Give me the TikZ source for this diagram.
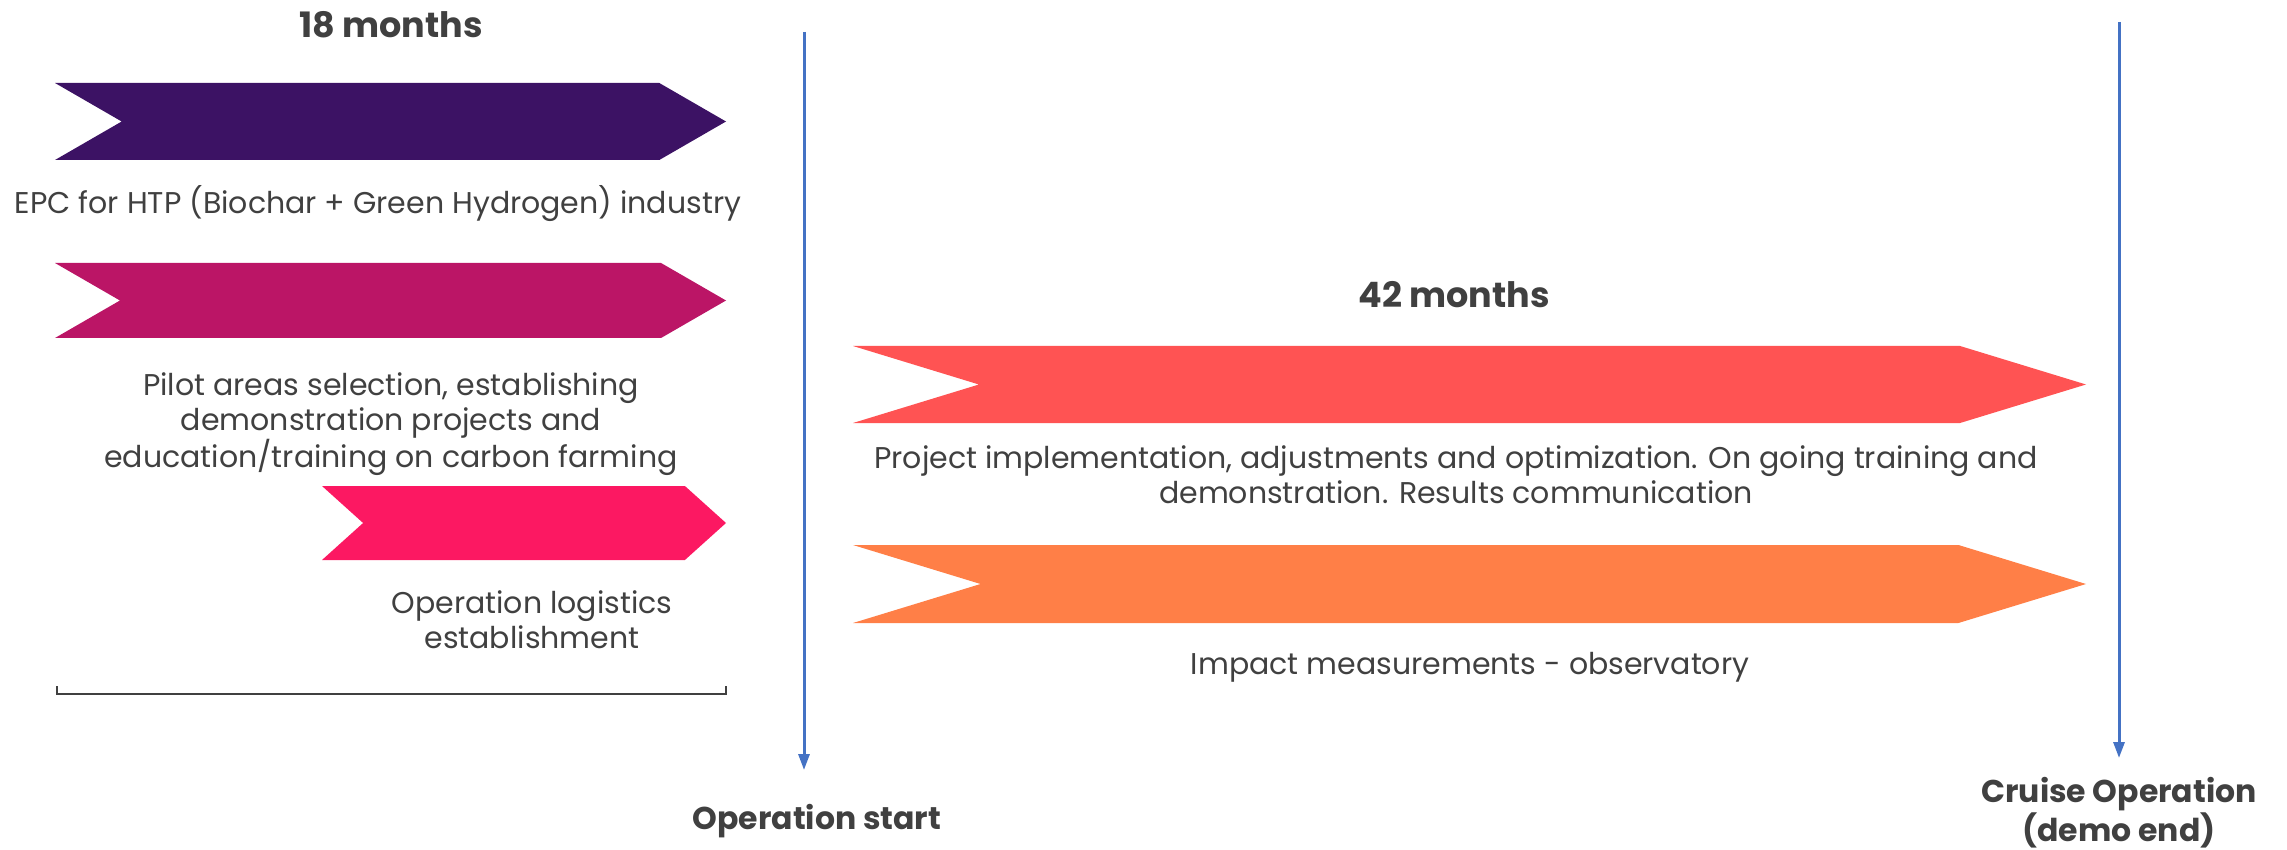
\documentclass[tikz,border=0pt]{standalone}
\usepackage{fontspec}
\setmainfont{Poppins}
\definecolor{epcpurple}{RGB}{60,18,100}
\definecolor{pilotmagenta}{RGB}{187,21,102}
\definecolor{logisticspink}{RGB}{252,24,98}
\definecolor{projectred}{RGB}{255,83,83}
\definecolor{impactorange}{RGB}{255,127,71}
\definecolor{timelineblue}{RGB}{68,114,196}
\definecolor{textgray}{RGB}{64,64,64}
\usetikzlibrary{shapes.symbols,arrows.meta,positioning}

\begin{document}
\begin{tikzpicture}[x=1pt, y=-1pt,
    chevron/.style={signal, signal from=west, signal to=east, inner sep=0pt, draw=none},
    phase/.style={font=\fontsize{30}{35}\selectfont, text=textgray, align=center},
    period/.style={font=\fontsize{35}{40}\selectfont\bfseries, text=textgray, align=center},
    milestonelabel/.style={font=\fontsize{31.5}{39}\selectfont\bfseries, text=textgray, align=center},
    milestone/.style={-{Triangle[length=16pt,width=11pt]}, line width=3pt, draw=timelineblue}]
    \useasboundingbox (0,0) rectangle (2287,850);

    % Preparation phase (18 months)
    \node[period] (months18) at (391,25) {18 months};
    \node[chevron, fill=epcpurple, minimum width=671pt, minimum height=77pt, signal pointer angle=60] (epc) at (390.5,121.5) {};
    \node[phase] (epclabel) at (378,204) {EPC for HTP (Biochar + Green Hydrogen) industry};
    \node[chevron, fill=pilotmagenta, minimum width=671pt, minimum height=75pt, signal pointer angle=60] (pilot) at (390.5,300.5) {};
    \node[phase] (pilotlabel) at (391,424) {Pilot areas selection, establishing\\demonstration projects and\\education/training on carbon farming};
    \node[chevron, fill=logisticspink, minimum width=404pt, minimum height=74pt, signal pointer angle=84] (logistics) at (524,523) {};
    \node[phase] (logisticslabel) at (532,620) {Operation logistics\\establishment};

    % Bracket under the first phase
    \coordinate (brleft) at (57,686);
    \coordinate (brright) at (726,686);
    \draw[textgray, line width=1.5pt] (brleft) -- ++(0,8) -| (brright);

    % Operation phase (42 months)
    \node[period] (months42) at (1454,295) {42 months};
    \node[chevron, fill=projectred, minimum width=1233pt, minimum height=77pt, signal pointer angle=34] (project) at (1469.5,384.5) {};
    \node[phase] (projectlabel) at (1456,475) {Project implementation, adjustments and optimization. On going training and\\demonstration. Results communication};
    \node[chevron, fill=impactorange, minimum width=1233pt, minimum height=78pt, signal pointer angle=34] (impact) at (1469.5,584) {};
    \node[phase] (impactlabel) at (1470,667) {Impact measurements - observatory};

    % Milestones
    \coordinate (starttop) at (804,32);
    \coordinate (startend) at (804,770);
    \coordinate (cruisetop) at (2119,22);
    \coordinate (cruiseend) at (2119,758);
    \draw[milestone] (starttop) -- (startend);
    \draw[milestone] (cruisetop) -- (cruiseend);
    \node[milestonelabel] (opstart) at (817,821) {Operation start};
    \node[milestonelabel] (cruise) at (2119,813) {Cruise Operation\\(demo end)};
\end{tikzpicture}
\end{document}
